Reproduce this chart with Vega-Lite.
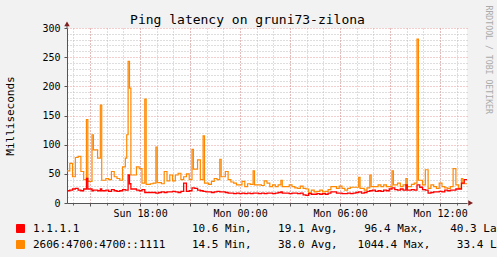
{
  "$schema": "https://vega.github.io/schema/vega-lite/v6.json",
  "width": 400,
  "height": 175,
  "autosize": {"type": "none"},
  "padding": {"left": 67, "top": 28, "right": 30, "bottom": 54},
  "background": "#F2F2F2",
  "config": {"view": {"fill": "white", "stroke": null}, "font": "DejaVu Sans Mono"},
  "title": {"text": "Ping latency on gruni73-zilona", "font": "DejaVu Sans Mono", "fontSize": 13, "fontWeight": "normal", "color": "black", "anchor": "middle", "dx": -19.5, "offset": -21.5},
  "data": {"values": [
    {"t":"2024-06-02T13:37","a":21,"b":55},{"t":"2024-06-02T13:47","a":22,"b":68},{"t":"2024-06-02T13:57","a":24,"b":45},
    {"t":"2024-06-02T14:07","a":25,"b":78},{"t":"2024-06-02T14:17","a":22,"b":80},{"t":"2024-06-02T14:27","a":21,"b":54},{"t":"2024-06-02T14:37","a":24,"b":40},{"t":"2024-06-02T14:47","a":42,"b":143},{"t":"2024-06-02T14:52","a":24,"b":37},
    {"t":"2024-06-02T15:07","a":21,"b":117},{"t":"2024-06-02T15:12","a":22,"b":91},{"t":"2024-06-02T15:17","a":22,"b":91},{"t":"2024-06-02T15:27","a":21,"b":77},{"t":"2024-06-02T15:37","a":24,"b":168},{"t":"2024-06-02T15:42","a":21,"b":39},{"t":"2024-06-02T15:57","a":22,"b":42},
    {"t":"2024-06-02T16:07","a":20,"b":40},{"t":"2024-06-02T16:17","a":23,"b":54},{"t":"2024-06-02T16:27","a":21,"b":45},{"t":"2024-06-02T16:37","a":20,"b":42},{"t":"2024-06-02T16:47","a":21,"b":39},{"t":"2024-06-02T16:57","a":23,"b":62},
    {"t":"2024-06-02T17:07","a":22,"b":77},{"t":"2024-06-02T17:12","a":22,"b":117},{"t":"2024-06-02T17:17","a":48,"b":243},{"t":"2024-06-02T17:22","a":33,"b":197},{"t":"2024-06-02T17:27","a":24,"b":48},{"t":"2024-06-02T17:37","a":24,"b":48},{"t":"2024-06-02T17:47","a":22,"b":62},{"t":"2024-06-02T17:57","a":21,"b":59},
    {"t":"2024-06-02T18:07","a":23,"b":34},{"t":"2024-06-02T18:17","a":18,"b":178},{"t":"2024-06-02T18:22","a":18,"b":32},{"t":"2024-06-02T18:37","a":18,"b":33},{"t":"2024-06-02T18:47","a":18,"b":34},{"t":"2024-06-02T18:57","a":17,"b":96},{"t":"2024-06-02T19:02","a":17,"b":35},
    {"t":"2024-06-02T19:07","a":18,"b":35},{"t":"2024-06-02T19:17","a":19,"b":33},{"t":"2024-06-02T19:27","a":18,"b":54},{"t":"2024-06-02T19:37","a":19,"b":38},{"t":"2024-06-02T19:47","a":19,"b":48},{"t":"2024-06-02T19:57","a":20,"b":38},
    {"t":"2024-06-02T20:07","a":19,"b":48},{"t":"2024-06-02T20:17","a":18,"b":51},{"t":"2024-06-02T20:27","a":20,"b":40},{"t":"2024-06-02T20:37","a":34,"b":45},{"t":"2024-06-02T20:47","a":20,"b":50},{"t":"2024-06-02T20:57","a":21,"b":40},
    {"t":"2024-06-02T21:07","a":26,"b":92},{"t":"2024-06-02T21:12","a":26,"b":58},{"t":"2024-06-02T21:17","a":25,"b":58},{"t":"2024-06-02T21:27","a":22,"b":74},{"t":"2024-06-02T21:37","a":21,"b":40},{"t":"2024-06-02T21:47","a":20,"b":115},{"t":"2024-06-02T21:52","a":20,"b":34},{"t":"2024-06-02T21:57","a":19,"b":34},
    {"t":"2024-06-02T22:07","a":19,"b":32},{"t":"2024-06-02T22:17","a":18,"b":37},{"t":"2024-06-02T22:27","a":19,"b":42},{"t":"2024-06-02T22:37","a":20,"b":40},{"t":"2024-06-02T22:47","a":19,"b":75},{"t":"2024-06-02T22:52","a":19,"b":45},{"t":"2024-06-02T22:57","a":19,"b":45},
    {"t":"2024-06-02T23:07","a":18,"b":54},{"t":"2024-06-02T23:17","a":17,"b":40},{"t":"2024-06-02T23:27","a":17,"b":36},{"t":"2024-06-02T23:37","a":16,"b":34},{"t":"2024-06-02T23:47","a":17,"b":31},{"t":"2024-06-02T23:57","a":16,"b":31},
    {"t":"2024-06-03T00:07","a":17,"b":37},{"t":"2024-06-03T00:17","a":16,"b":28},{"t":"2024-06-03T00:27","a":17,"b":33},{"t":"2024-06-03T00:37","a":16,"b":32},{"t":"2024-06-03T00:47","a":17,"b":55},{"t":"2024-06-03T00:52","a":17,"b":31},{"t":"2024-06-03T00:57","a":17,"b":31},
    {"t":"2024-06-03T01:07","a":16,"b":31},{"t":"2024-06-03T01:17","a":17,"b":30},{"t":"2024-06-03T01:27","a":16,"b":38},{"t":"2024-06-03T01:37","a":17,"b":34},{"t":"2024-06-03T01:47","a":17,"b":28},{"t":"2024-06-03T01:57","a":16,"b":31},
    {"t":"2024-06-03T02:07","a":17,"b":28},{"t":"2024-06-03T02:17","a":18,"b":31},{"t":"2024-06-03T02:27","a":19,"b":39},{"t":"2024-06-03T02:32","a":17,"b":28},{"t":"2024-06-03T02:47","a":17,"b":28},{"t":"2024-06-03T02:57","a":16,"b":31},
    {"t":"2024-06-03T03:07","a":17,"b":28},{"t":"2024-06-03T03:17","a":17,"b":26},{"t":"2024-06-03T03:27","a":16,"b":25},{"t":"2024-06-03T03:37","a":17,"b":29},{"t":"2024-06-03T03:47","a":14,"b":25},{"t":"2024-06-03T03:57","a":13,"b":24},
    {"t":"2024-06-03T04:07","a":16,"b":18},{"t":"2024-06-03T04:17","a":15,"b":22},{"t":"2024-06-03T04:27","a":15,"b":19},{"t":"2024-06-03T04:37","a":16,"b":20},{"t":"2024-06-03T04:47","a":15,"b":22},{"t":"2024-06-03T04:57","a":16,"b":19},
    {"t":"2024-06-03T05:07","a":15,"b":20},{"t":"2024-06-03T05:17","a":17,"b":23},{"t":"2024-06-03T05:27","a":19,"b":28},{"t":"2024-06-03T05:37","a":19,"b":28},{"t":"2024-06-03T05:47","a":17,"b":25},{"t":"2024-06-03T05:57","a":17,"b":29},
    {"t":"2024-06-03T06:07","a":16,"b":25},{"t":"2024-06-03T06:17","a":16,"b":22},{"t":"2024-06-03T06:27","a":17,"b":25},{"t":"2024-06-03T06:37","a":16,"b":27},{"t":"2024-06-03T06:47","a":17,"b":27},{"t":"2024-06-03T06:57","a":18,"b":27},
    {"t":"2024-06-03T07:07","a":19,"b":44},{"t":"2024-06-03T07:12","a":19,"b":25},{"t":"2024-06-03T07:17","a":17,"b":25},{"t":"2024-06-03T07:27","a":18,"b":22},{"t":"2024-06-03T07:37","a":20,"b":26},{"t":"2024-06-03T07:47","a":21,"b":48},{"t":"2024-06-03T07:52","a":21,"b":28},{"t":"2024-06-03T07:57","a":22,"b":28},
    {"t":"2024-06-03T08:07","a":20,"b":28},{"t":"2024-06-03T08:17","a":21,"b":31},{"t":"2024-06-03T08:27","a":20,"b":28},{"t":"2024-06-03T08:37","a":22,"b":31},{"t":"2024-06-03T08:47","a":21,"b":28},{"t":"2024-06-03T08:57","a":24,"b":28},
    {"t":"2024-06-03T09:07","a":26,"b":55},{"t":"2024-06-03T09:12","a":26,"b":31},{"t":"2024-06-03T09:17","a":23,"b":31},{"t":"2024-06-03T09:27","a":22,"b":34},{"t":"2024-06-03T09:37","a":24,"b":28},{"t":"2024-06-03T09:47","a":22,"b":31},{"t":"2024-06-03T09:57","a":31,"b":42},{"t":"2024-06-03T10:02","a":22,"b":28},
    {"t":"2024-06-03T10:07","a":22,"b":28},{"t":"2024-06-03T10:17","a":23,"b":32},{"t":"2024-06-03T10:27","a":22,"b":34},{"t":"2024-06-03T10:37","a":31,"b":281},{"t":"2024-06-03T10:42","a":31,"b":39},{"t":"2024-06-03T10:47","a":27,"b":39},{"t":"2024-06-03T10:57","a":23,"b":31},
    {"t":"2024-06-03T11:07","a":22,"b":57},{"t":"2024-06-03T11:17","a":17,"b":25},{"t":"2024-06-03T11:27","a":18,"b":31},{"t":"2024-06-03T11:37","a":19,"b":28},{"t":"2024-06-03T11:47","a":19,"b":25},{"t":"2024-06-03T11:57","a":20,"b":34},
    {"t":"2024-06-03T12:07","a":19,"b":28},{"t":"2024-06-03T12:17","a":22,"b":26},{"t":"2024-06-03T12:27","a":21,"b":25},{"t":"2024-06-03T12:37","a":22,"b":28},{"t":"2024-06-03T12:47","a":22,"b":59},{"t":"2024-06-03T12:57","a":24,"b":31},
    {"t":"2024-06-03T13:07","a":24,"b":25},{"t":"2024-06-03T13:17","a":34,"b":42},{"t":"2024-06-03T13:22","a":34,"b":33},{"t":"2024-06-03T13:27","a":40,"b":33},{"t":"2024-06-03T13:37","a":40,"b":33}
  ]},
  "layer": [
    {
      "mark": {"type": "line", "interpolate": "step-after", "strokeWidth": 1.2},
      "encoding": {
        "x": {"field": "t", "type": "temporal",
          "scale": {"domain": [{"year": 2024, "month": 6, "date": 2, "hours": 13, "minutes": 37}, {"year": 2024, "month": 6, "date": 3, "hours": 13, "minutes": 37}]},
          "axis": {"orient": "bottom", "values": [
            {"year": 2024, "month": 6, "date": 2, "hours": 14}, {"year": 2024, "month": 6, "date": 2, "hours": 15}, {"year": 2024, "month": 6, "date": 2, "hours": 16}, {"year": 2024, "month": 6, "date": 2, "hours": 17},
            {"year": 2024, "month": 6, "date": 2, "hours": 18}, {"year": 2024, "month": 6, "date": 2, "hours": 19}, {"year": 2024, "month": 6, "date": 2, "hours": 20}, {"year": 2024, "month": 6, "date": 2, "hours": 21},
            {"year": 2024, "month": 6, "date": 2, "hours": 22}, {"year": 2024, "month": 6, "date": 2, "hours": 23}, {"year": 2024, "month": 6, "date": 3, "hours": 0}, {"year": 2024, "month": 6, "date": 3, "hours": 1},
            {"year": 2024, "month": 6, "date": 3, "hours": 2}, {"year": 2024, "month": 6, "date": 3, "hours": 3}, {"year": 2024, "month": 6, "date": 3, "hours": 4}, {"year": 2024, "month": 6, "date": 3, "hours": 5},
            {"year": 2024, "month": 6, "date": 3, "hours": 6}, {"year": 2024, "month": 6, "date": 3, "hours": 7}, {"year": 2024, "month": 6, "date": 3, "hours": 8}, {"year": 2024, "month": 6, "date": 3, "hours": 9},
            {"year": 2024, "month": 6, "date": 3, "hours": 10}, {"year": 2024, "month": 6, "date": 3, "hours": 11}, {"year": 2024, "month": 6, "date": 3, "hours": 12}, {"year": 2024, "month": 6, "date": 3, "hours": 13}],
            "grid": true, "gridColor": "#BDBDBD", "gridDash": [1, 2], "labels": false, "domain": false, "ticks": true, "tickSize": 2, "tickColor": "#666666", "title": null}},
        "y": {"field": "b", "type": "quantitative", "scale": {"domain": [0, 300]},
          "axis": {"orient": "right", "values": [10, 20, 30, 40, 60, 70, 80, 90, 110, 120, 130, 140, 160, 170, 180, 190, 210, 220, 230, 240, 260, 270, 280, 290], "grid": true, "gridColor": "#BDBDBD", "gridDash": [1, 2], "labels": false, "ticks": false, "domain": false,
            "title": "RRDTOOL / TOBI OETIKER", "titleFont": "DejaVu Sans Mono", "titleFontSize": 8.2, "titleFontWeight": "normal", "titleColor": "#AAAAAA", "titleAngle": 90, "titleX": 20.5, "titleY": -23, "titleAlign": "left", "titleBaseline": "middle"}},
        "color": {"datum": "2606:4700:4700::1111", "type": "nominal",
          "scale": {"domain": ["1.1.1.1", "2606:4700:4700::1111"], "range": ["#FF0000", "#FF8800"]},
          "legend": {"orient": "none", "legendX": -52, "legendY": 195, "title": null, "symbolType": "square", "symbolSize": 64, "symbolStrokeWidth": 1, "symbolStrokeColor": "black",
            "labelFont": "DejaVu Sans Mono", "labelFontSize": 11, "labelColor": "black", "labelLimit": 1000, "labelOffset": 7, "rowPadding": 3, "padding": 0,
            "labelExpr": "datum.value === '1.1.1.1' ? '1.1.1.1\u00a0\u00a0\u00a0\u00a0\u00a0\u00a0\u00a0\u00a0\u00a0\u00a0\u00a0\u00a0\u00a0\u00a0\u00a0\u00a0\u00a010.6 Min,\u00a0\u00a0\u00a0\u00a019.1 Avg,\u00a0\u00a0\u00a0\u00a096.4 Max,\u00a0\u00a0\u00a0\u00a040.3 Last' : '2606:4700:4700::1111\u00a0\u00a0\u00a0\u00a014.5 Min,\u00a0\u00a0\u00a0\u00a038.0 Avg,\u00a0\u00a0\u00a01044.4 Max,\u00a0\u00a0\u00a0\u00a033.4 Last'",
            "encode": {"symbols": {"update": {"fill": {"scale": "color", "field": "value"}, "stroke": {"value": "black"}, "strokeWidth": {"value": 1}, "opacity": {"value": 1}}}}}}
      }
    },
    {
      "mark": {"type": "line", "interpolate": "step-after", "strokeWidth": 1.3},
      "encoding": {
        "x": {"field": "t", "type": "temporal",
          "axis": {"orient": "bottom", "values": [
            {"year": 2024, "month": 6, "date": 2, "hours": 15}, {"year": 2024, "month": 6, "date": 2, "hours": 18}, {"year": 2024, "month": 6, "date": 2, "hours": 21}, {"year": 2024, "month": 6, "date": 3, "hours": 0},
            {"year": 2024, "month": 6, "date": 3, "hours": 3}, {"year": 2024, "month": 6, "date": 3, "hours": 6}, {"year": 2024, "month": 6, "date": 3, "hours": 9}, {"year": 2024, "month": 6, "date": 3, "hours": 12}],
            "grid": true, "gridColor": "#E89A9A", "gridDash": [1, 2], "domain": true, "domainColor": "#555555", "ticks": true, "tickSize": 3, "tickColor": "#555555",
            "labelExpr": "hours(datum.value) % 6 === 0 ? timeFormat(datum.value, '%a %H:%M') : ''", "labelFont": "DejaVu Sans Mono", "labelFontSize": 10, "labelColor": "black", "labelPadding": 2, "labelFlush": false, "labelOverlap": false, "title": null}},
        "y": {"field": "a", "type": "quantitative",
          "axis": {"orient": "left", "values": [0, 50, 100, 150, 200, 250, 300], "grid": true, "gridColor": "#E89A9A", "gridDash": [1, 2], "domain": true, "domainColor": "#555555", "ticks": true, "tickSize": 3, "tickColor": "#555555",
            "labelFont": "DejaVu Sans Mono", "labelFontSize": 10, "labelColor": "black", "labelPadding": 4,
            "title": "Milliseconds", "titleFont": "DejaVu Sans Mono", "titleFontSize": 11, "titleFontWeight": "normal", "titleColor": "black", "titleX": -57, "titleY": 87.5, "titleBaseline": "middle", "titleAlign": "center", "titleAngle": -90}},
        "color": {"datum": "1.1.1.1", "type": "nominal"}
      }
    },
    {
      "data": {"values": [{}]},
      "mark": {"type": "rule", "color": "#555555", "strokeWidth": 1},
      "encoding": {
        "x": {"datum": {"year": 2024, "month": 6, "date": 2, "hours": 13, "minutes": 37}, "type": "temporal", "axis": null},
        "y": {"datum": 300, "type": "quantitative", "axis": null},
        "y2": {"datum": 306}
      }
    },
    {
      "data": {"values": [{}]},
      "mark": {"type": "point", "shape": "triangle-up", "filled": true, "size": 30, "color": "#802020", "opacity": 1},
      "encoding": {
        "x": {"datum": {"year": 2024, "month": 6, "date": 2, "hours": 13, "minutes": 37}, "type": "temporal", "axis": null},
        "y": {"datum": 307, "type": "quantitative", "axis": null}
      }
    },
    {
      "data": {"values": [{}]},
      "mark": {"type": "point", "shape": "triangle-right", "filled": true, "size": 30, "color": "#802020", "opacity": 1},
      "encoding": {
        "x": {"datum": {"year": 2024, "month": 6, "date": 3, "hours": 13, "minutes": 50}, "type": "temporal", "axis": null},
        "y": {"datum": 0, "type": "quantitative", "axis": null}
      }
    }
  ],
  "resolve": {"axis": {"x": "independent", "y": "independent"}}
}
